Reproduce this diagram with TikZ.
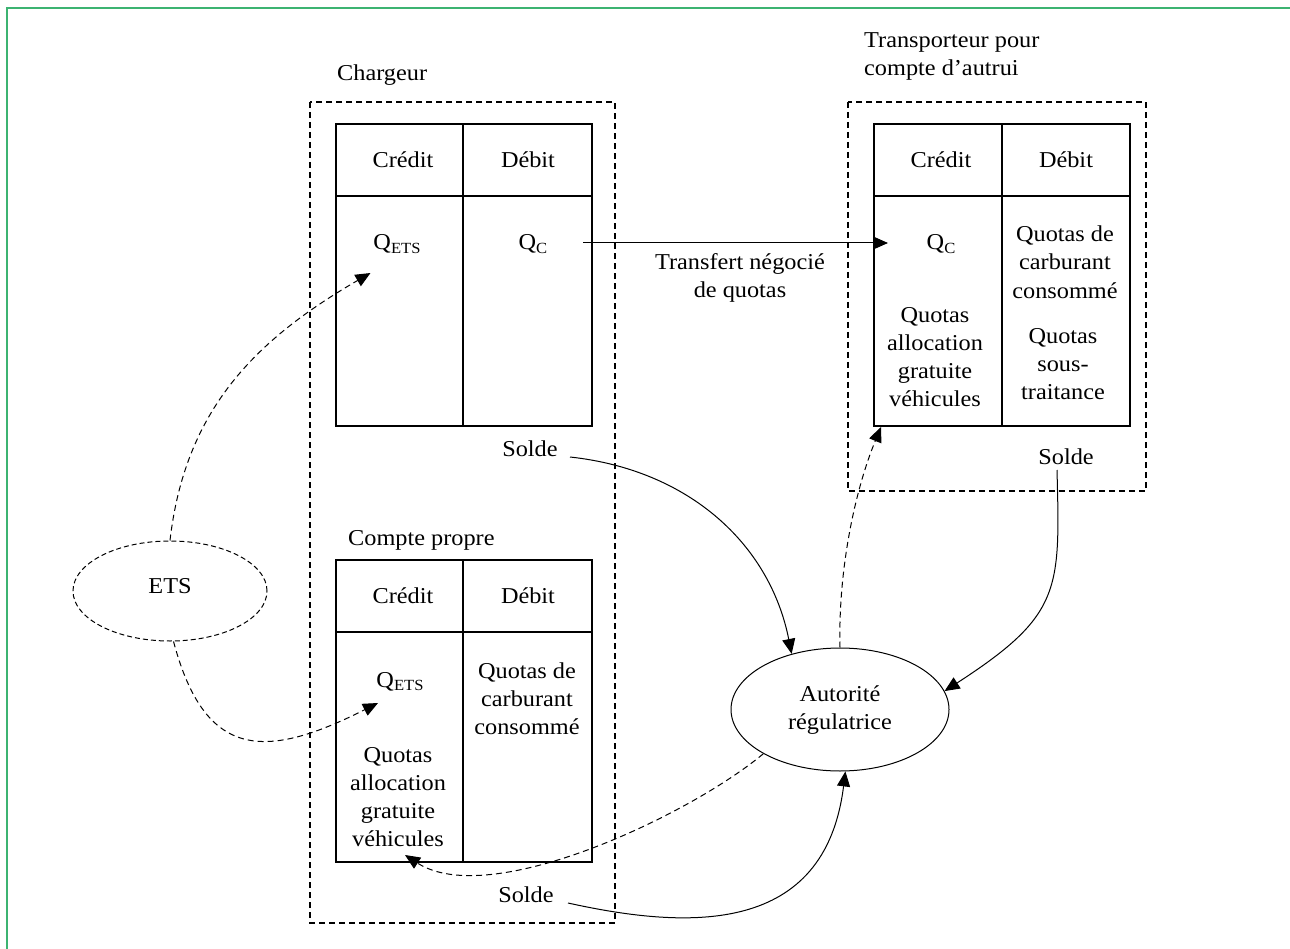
\documentclass[tikz,border=0pt]{standalone}
\usepackage{fontspec}
\setmainfont{Liberation Serif}[FakeStretch=1.07]
\usetikzlibrary{arrows.meta,shapes.geometric}
\definecolor{framegreen}{RGB}{60,179,113}
\newcommand{\subtx}[1]{\raisebox{-3.5pt}{\fontsize{15.5}{15.5}\selectfont #1}}
\begin{document}
\begin{tikzpicture}[x=1pt,y=-1pt,
  txt/.style={inner sep=0pt, font=\fontsize{22.7}{28.3}\selectfont},
  tbl/.style={line width=1.8pt},
  grp/.style={line width=1.6pt, dash pattern=on 6pt off 4pt},
  link/.style={line width=1pt, -{Triangle[length=15pt,width=13pt]}},
  dlink/.style={link, dash pattern=on 6pt off 4pt}]
\useasboundingbox (0,0) rectangle (1290,949);
\fill[white] (0,0) rectangle (1290,949);
\draw[framegreen, line width=1.5pt] (7,949) -- (7,8) -- (1290,8);

% groups
\draw[grp] (310,102) rectangle (615,923);
\draw[grp] (848,102) rectangle (1146,491);

% tables
\draw[tbl] (336,124) rectangle (592,426);
\draw[tbl] (336,196) -- (592,196);
\draw[tbl] (463,124) -- (463,426);
\draw[tbl] (336,560) rectangle (592,862);
\draw[tbl] (336,632) -- (592,632);
\draw[tbl] (463,560) -- (463,862);
\draw[tbl] (874,124) rectangle (1130,426);
\draw[tbl] (874,196) -- (1130,196);
\draw[tbl] (1002,124) -- (1002,426);

% labels
\node[txt, anchor=base west] (chargeur) at (337,81) {Chargeur};
\node[txt, anchor=base west] (cpropre) at (348,545) {Compte propre};
\node[txt, anchor=west, align=left] (transp) at (864,55.8) {Transporteur pour\strut\\compte d’autrui\strut};

% table 1
\node[txt, anchor=base] (cr1) at (403,168) {Crédit};
\node[txt, anchor=base] (db1) at (528,168) {Débit};
\node[txt, anchor=base] (qets1) at (397,250) {Q\subtx{ETS}};
\node[txt, anchor=base] (qc1) at (533,250) {Q\subtx{C}};
\node[txt, anchor=base] (solde1) at (530,456) {Solde};

% table 2
\node[txt, anchor=base] (cr2) at (403,603) {Crédit};
\node[txt, anchor=base] (db2) at (528,603) {Débit};
\node[txt, anchor=base] (qets2) at (400,687) {Q\subtx{ETS}};
\node[txt, align=center] (alloc2) at (398,798.8) {Quotas\strut\\allocation\strut\\gratuite\strut\\véhicules\strut};
\node[txt, align=center] (conso2) at (527,700.8) {Quotas de\strut\\carburant\strut\\consommé\strut};
\node[txt, anchor=base] (solde2) at (526,902) {Solde};

% table 3
\node[txt, anchor=base] (cr3) at (941,168) {Crédit};
\node[txt, anchor=base] (db3) at (1066,168) {Débit};
\node[txt, anchor=base] (qc3) at (941,250) {Q\subtx{C}};
\node[txt, align=center] (alloc3) at (935,358.8) {Quotas\strut\\allocation\strut\\gratuite\strut\\véhicules\strut};
\node[txt, align=center] (conso3) at (1065,264.3) {Quotas de\strut\\carburant\strut\\consommé\strut};
\node[txt, align=center] (sous3) at (1063,365.8) {Quotas\strut\\sous-\strut\\traitance\strut};
\node[txt, anchor=base] (solde3) at (1066,464) {Solde};

\node[txt, align=center] (transfert) at (740,277.8) {Transfert négocié\strut\\de quotas\strut};

% ellipses
\node[txt, draw, ellipse, line width=1pt, dash pattern=on 5pt off 3pt,
      minimum width=194pt, minimum height=100pt, text depth=10pt] (ets) at (170,591) {ETS};
\node[txt, draw, ellipse, line width=1pt, align=center,
      minimum width=218pt, minimum height=123pt] (aut) at (840,709.5) {Autorité\strut\\régulatrice\strut};

% connector ends
\coordinate (qets1tip) at (370.5,273);
\coordinate (qets2tip) at (378,703);
\coordinate (qcstart) at (583,243);
\coordinate (qc3tip) at (888,243);
\coordinate (alloc3tip) at (881,427);
\coordinate (alloc2tip) at (405,855);
\coordinate (s1start) at (570,457);
\coordinate (s2start) at (568,903);
\coordinate (s3start) at (1057,470);

% connectors
\draw[dlink] (ets.north) .. controls (185,410) and (255,340) .. (qets1tip);
\draw[dlink] (ets.-86) .. controls (205,760) and (265,760) .. (qets2tip);
\draw[link] (qcstart) -- (qc3tip);
\draw[link] (s1start) .. controls (690,470) and (770,545) .. (aut.131);
\draw[link] (s3start) .. controls (1060,590) and (1062,615) .. (aut.10);
\draw[dlink] (aut.north) .. controls (838,570) and (855,490) .. (alloc3tip);
\draw[dlink] (aut.210) .. controls (690,815) and (490,910) .. (alloc2tip);
\draw[link] (s2start) .. controls (690,930) and (825,935) .. (aut.-85);
\end{tikzpicture}
\end{document}
